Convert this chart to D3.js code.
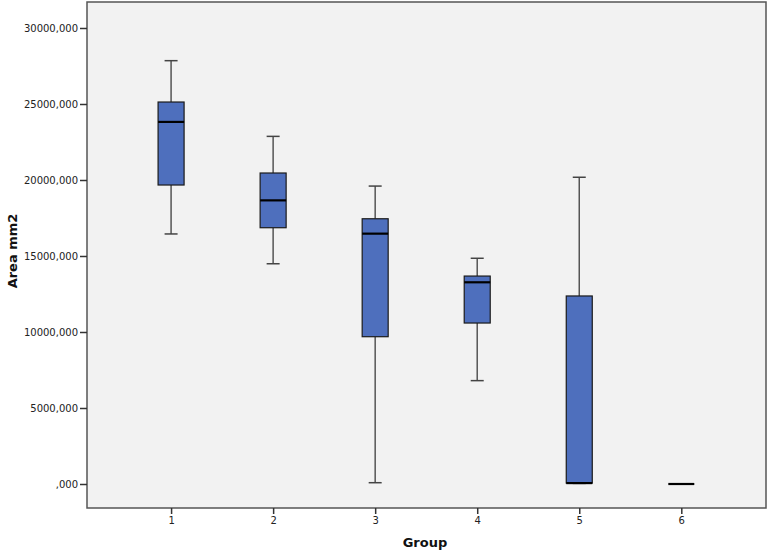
<!DOCTYPE html>
<html>
<head>
<meta charset="utf-8">
<script src="https://cdn.jsdelivr.net/npm/d3@7"></script>
<style>
  body { margin: 0; background: #fff; }
  svg { display: block; }
</style>
</head>
<body>
<div id="chart"></div>
<script>
// values
var groups = [1, 2, 3, 4, 5, 6];
var whiskerLow  = [16450, 14490,    85,  6800,    40,  0];
var q1          = [19670, 16860,  9690, 10590,    60,  0];
var median      = [23820, 18660, 16470, 13270,    60,  0];
var q3          = [25130, 20460, 17450, 13680, 12370,  0];
var whiskerHigh = [27850, 22870, 19600, 14850, 20180,  0];
var yTicks = [0, 5000, 10000, 15000, 20000, 25000, 30000];

var width = 768, height = 553;
var margin = { top: 2, right: 2, bottom: 45, left: 87 };

var svg = d3.select('#chart').append('svg')
    .attr('width', width)
    .attr('height', height);

var x_scale = d3.scaleLinear()
    .domain([0.176, 6.83])
    .range([margin.left, width - margin.right]);

var y_scale = d3.scaleLinear()
    .domain([-1579, 31710])
    .range([height - margin.bottom, margin.top]);

// plot background
svg.append('rect')
    .attr('x', margin.left)
    .attr('y', margin.top)
    .attr('width', width - margin.right - margin.left)
    .attr('height', height - margin.bottom - margin.top)
    .style('fill', '#f2f2f2')
    .style('stroke', '#555')
    .style('stroke-width', 1.5);

function fmt(v) {
    return (v === 0 ? '' : String(v)) + ',000';
}

// y axis
var yAxis = svg.append('g')
    .attr('transform', 'translate(' + margin.left + ',0)')
    .call(d3.axisLeft(y_scale).tickValues(yTicks).tickFormat(fmt).tickSize(7).tickPadding(2));
yAxis.select('.domain').remove();
yAxis.selectAll('line').style('stroke', '#333').style('stroke-width', 1.5);
yAxis.selectAll('text')
    .style('font-family', 'DejaVu Sans, Verdana, sans-serif')
    .style('font-size', '10px')
    .style('fill', '#222');

// x axis
var xAxis = svg.append('g')
    .attr('transform', 'translate(0,' + (height - margin.bottom) + ')')
    .call(d3.axisBottom(x_scale).tickValues(groups).tickFormat(d3.format('d')).tickSize(6).tickPadding(3));
xAxis.select('.domain').remove();
xAxis.selectAll('line').style('stroke', '#333').style('stroke-width', 1.5);
xAxis.selectAll('text')
    .style('font-family', 'DejaVu Sans, Verdana, sans-serif')
    .style('font-size', '10px')
    .style('fill', '#222');

var boxW = 26, capW = 13;

var g = svg.selectAll('.box')
    .data(groups)
    .enter().append('g')
    .attr('class', 'box');

// whiskers, skipped where the box has no spread
g.filter(function(d, i) { return whiskerHigh[i] > whiskerLow[i]; })
    .each(function(d, i0) {
        var i = groups.indexOf(d);
        var sel = d3.select(this);
        var cx = x_scale(d);
        sel.append('line')
            .attr('x1', cx).attr('x2', cx)
            .attr('y1', y_scale(whiskerHigh[i])).attr('y2', y_scale(q3[i]))
            .style('stroke', '#555').style('stroke-width', 1.5);
        sel.append('line')
            .attr('x1', cx).attr('x2', cx)
            .attr('y1', y_scale(q1[i])).attr('y2', y_scale(whiskerLow[i]))
            .style('stroke', '#555').style('stroke-width', 1.5);
        sel.append('line')
            .attr('x1', cx - capW / 2).attr('x2', cx + capW / 2)
            .attr('y1', y_scale(whiskerHigh[i])).attr('y2', y_scale(whiskerHigh[i]))
            .style('stroke', '#444').style('stroke-width', 1.5);
        sel.append('line')
            .attr('x1', cx - capW / 2).attr('x2', cx + capW / 2)
            .attr('y1', y_scale(whiskerLow[i])).attr('y2', y_scale(whiskerLow[i]))
            .style('stroke', '#444').style('stroke-width', 1.5);
        // box
        sel.append('rect')
            .attr('x', cx - boxW / 2)
            .attr('width', boxW)
            .attr('y', y_scale(q3[i]))
            .attr('height', y_scale(q1[i]) - y_scale(q3[i]))
            .style('fill', '#4e6fbd')
            .style('stroke', '#1a1a1a')
            .style('stroke-width', 1.2);
    });

// median lines
g.append('line')
    .attr('x1', function(d) { return x_scale(d) - boxW / 2; })
    .attr('x2', function(d) { return x_scale(d) + boxW / 2; })
    .attr('y1', function(d, i) { return y_scale(median[i]); })
    .attr('y2', function(d, i) { return y_scale(median[i]); })
    .style('stroke', '#000')
    .style('stroke-width', 2.2);

// axis titles
svg.append('text')
    .attr('x', 425)
    .attr('y', 547)
    .attr('text-anchor', 'middle')
    .style('font-family', 'DejaVu Sans, Verdana, sans-serif')
    .style('font-weight', 'bold')
    .style('font-size', '13px')
    .style('fill', '#111')
    .text('Group');

svg.append('text')
    .attr('text-anchor', 'middle')
    .attr('transform', 'translate(17,251)rotate(-90)')
    .style('font-family', 'DejaVu Sans, Verdana, sans-serif')
    .style('font-weight', 'bold')
    .style('font-size', '13px')
    .style('fill', '#111')
    .text('Area mm2');
</script>
</body>
</html>
